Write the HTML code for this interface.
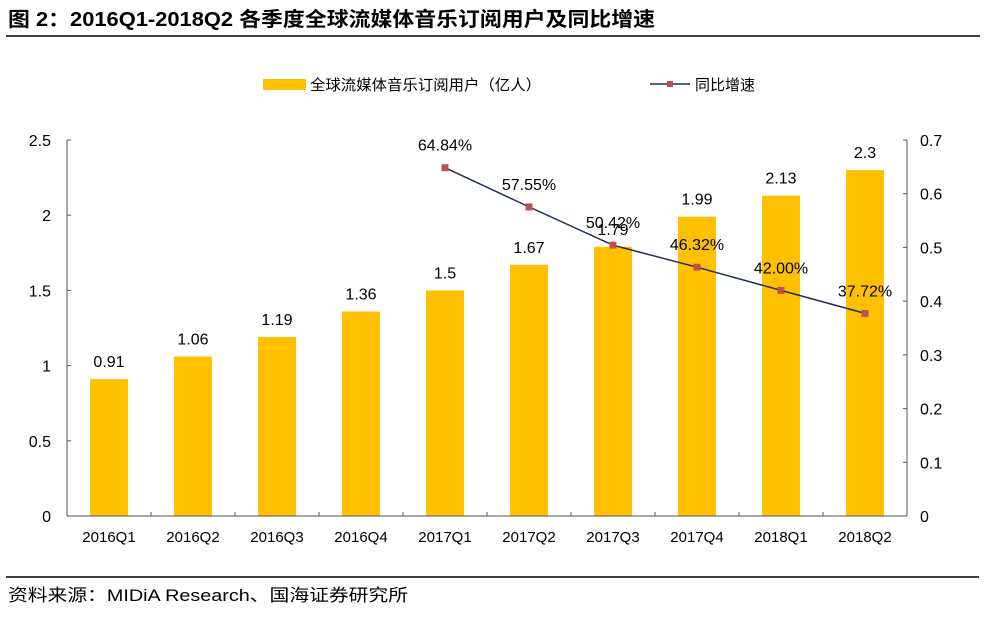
<!DOCTYPE html>
<html><head><meta charset="utf-8"><style>
body{margin:0;background:#fff;width:986px;height:613px;overflow:hidden;font-family:"Liberation Sans","Noto Sans CJK SC",sans-serif}
svg text{font-family:"Liberation Sans","Noto Sans CJK SC",sans-serif}
</style></head><body>
<svg width="986" height="613">
<text x="8" y="26" font-size="20" font-weight="bold" textLength="647" lengthAdjust="spacingAndGlyphs">图 2：2016Q1-2018Q2 各季度全球流媒体音乐订阅用户及同比增速</text>
<line x1="6" y1="36" x2="980" y2="36" stroke="#000" stroke-width="1.5"/>
<g>
<rect x="263" y="79" width="43" height="11" fill="#FFC000"/>
<text x="310" y="90" font-size="15" textLength="231" lengthAdjust="spacingAndGlyphs">全球流媒体音乐订阅用户（亿人）</text>
<line x1="650" y1="84" x2="690" y2="84" stroke="#1F2D5A" stroke-width="1.5"/>
<rect x="667" y="81" width="6" height="6" fill="#C0504D"/>
<text x="695" y="90" font-size="15">同比增速</text>
</g>
<g id="plot"></g>
<line x1="6" y1="577" x2="979" y2="577" stroke="#000" stroke-width="1.5"/>
<text x="8" y="601" font-size="17" textLength="400" lengthAdjust="spacingAndGlyphs">资料来源：MIDiA Research、国海证券研究所</text>
</svg>
<script>
const categories=["2016Q1","2016Q2","2016Q3","2016Q4","2017Q1","2017Q2","2017Q3","2017Q4","2018Q1","2018Q2"];
const users=[0.91,1.06,1.19,1.36,1.5,1.67,1.79,1.99,2.13,2.3];
const userLabels=["0.91","1.06","1.19","1.36","1.5","1.67","1.79","1.99","2.13","2.3"];
const growth=[null,null,null,null,0.6484,0.5755,0.5042,0.4632,0.42,0.3772];
const growthLabels=["","","","","64.84%","57.55%","50.42%","46.32%","42.00%","37.72%"];
const leftTicks=[0,0.5,1,1.5,2,2.5];
const rightTicks=[0,0.1,0.2,0.3,0.4,0.5,0.6,0.7];
const NS="http://www.w3.org/2000/svg";
const g=document.getElementById('plot');
const X0=67,X1=907,Y0=516,Y1=140;
const bw=(X1-X0)/categories.length;
const xc=i=>X0+bw*(i+0.5);
const yL=v=>Y0-v/2.5*(Y0-Y1);
const yR=v=>Y0-v/0.7*(Y0-Y1);
function el(t,a,txt){const e=document.createElementNS(NS,t);for(const k in a)e.setAttribute(k,a[k]);if(txt!==undefined)e.textContent=txt;g.appendChild(e);return e;}
users.forEach((v,i)=>{
 const r=el('rect',{x:xc(i)-19,y:yL(v),width:38,height:Y0-yL(v),fill:'#FFC000'});
 
 
});
let e;
e=el('line',{x1:X0,y1:Y1,x2:X0,y2:Y0,stroke:'#555'});


e=el('line',{x1:X1,y1:Y1,x2:X1,y2:Y0,stroke:'#555'});


e=el('line',{x1:X0,y1:Y0,x2:X1,y2:Y0,stroke:'#555'});


leftTicks.forEach(v=>{
 el('line',{x1:X0,y1:yL(v),x2:X0+4,y2:yL(v),stroke:'#555'});
 e=el('text',{x:51,y:yL(v)+6,'font-size':16,'text-anchor':'end'},String(v));
 
 
});
rightTicks.forEach(v=>{
 el('line',{x1:X1-4,y1:yR(v),x2:X1,y2:yR(v),stroke:'#555'});
 e=el('text',{x:920,y:yR(v)+6,'font-size':16},String(v));
 
 
});
for(let i=0;i<=categories.length;i++)el('line',{x1:X0+bw*i,y1:Y0,x2:X0+bw*i,y2:Y0-4,stroke:'#555'});
categories.forEach((c,i)=>{
 e=el('text',{x:xc(i),y:542,'font-size':15,'text-anchor':'middle'},c);
 
 
 e=el('text',{x:xc(i),y:yL(users[i])-12,'font-size':16,'text-anchor':'middle'},userLabels[i]);
 
 
});
const pts=growth.map((v,i)=>v==null?null:[xc(i),yR(v)]).filter(p=>p);
e=el('polyline',{points:pts.map(p=>p.join(',')).join(' '),fill:'none',stroke:'#1F2D5A','stroke-width':1.5});


growth.forEach((v,i)=>{
 if(v==null)return;
 e=el('rect',{x:xc(i)-3.5,y:yR(v)-3.5,width:7,height:7,fill:'#C0504D'});
 
 
 e=el('text',{x:xc(i),y:yR(v)-17,'font-size':16,'text-anchor':'middle'},growthLabels[i]);
 
 
});
</script>
</body></html>
